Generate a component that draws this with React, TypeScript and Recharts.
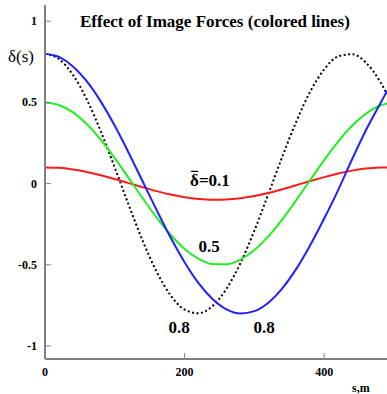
import React from "react";
import { LineChart, Line, XAxis, YAxis, ReferenceDot } from "recharts";

// distance along the line, m
const S = [0, 20, 40, 60, 80, 100, 120, 140, 160, 180, 200, 220, 240, 260, 280, 300, 320, 340, 360, 380, 400, 420, 440, 460, 480, 490];

// delta = 0.1 (red)
const RED = [0.1, 0.097, 0.087, 0.072, 0.052, 0.028, 0.003, -0.022, -0.046, -0.067, -0.084, -0.095, -0.1, -0.098, -0.09, -0.076, -0.058, -0.035, -0.01, 0.016, 0.04, 0.062, 0.08, 0.093, 0.099, 0.1];
// delta = 0.5 (green)
const GREEN = [0.5, 0.484, 0.439, 0.366, 0.27, 0.157, 0.034, -0.09, -0.209, -0.315, -0.402, -0.463, -0.495, -0.497, -0.468, -0.409, -0.325, -0.22, -0.102, 0.022, 0.145, 0.259, 0.356, 0.431, 0.481, 0.494];
// delta = 0.8 (blue)
const BLUE = [0.8, 0.78, 0.722, 0.629, 0.505, 0.356, 0.189, 0.013, -0.163, -0.332, -0.484, -0.613, -0.711, -0.775, -0.8, -0.785, -0.733, -0.645, -0.525, -0.379, -0.215, -0.04, 0.15, 0.33, 0.49, 0.57];
// delta = 0.8 without image forces (black dotted)
const BLACK = [0.8, 0.767, 0.67, 0.517, 0.321, 0.098, -0.132, -0.352, -0.543, -0.688, -0.776, -0.798, -0.754, -0.648, -0.49, -0.289, -0.064, 0.166, 0.382, 0.567, 0.703, 0.784, 0.797, 0.744, 0.629, 0.551];

const X_TICKS = [0, 200, 400];
const Y_TICKS = [-1, -0.5, 0, 0.5, 1];

const data = S.map((s, i) => ({ s, red: RED[i], green: GREEN[i], blue: BLUE[i], black: BLACK[i] }));

const PLOT_LEFT = 45;
const PLOT_BOTTOM = 359;
const AXIS_COLOR = "#808080";
const FONT = "'Liberation Serif', 'Times New Roman', serif";

const YTick = (props: any) => {
  const { y, payload } = props;
  return (
    <g>
      <line x1={PLOT_LEFT} x2={PLOT_LEFT + 6} y1={y} y2={y} stroke={AXIS_COLOR} strokeWidth={1} />
      <text x={PLOT_LEFT - 8} y={y} dy={4} textAnchor="end" fontFamily={FONT} fontWeight="bold" fontSize={12} fill="#000">
        {payload.value}
      </text>
    </g>
  );
};

const XTick = (props: any) => {
  const { x, payload } = props;
  return (
    <g>
      <line x1={x} x2={x} y1={PLOT_BOTTOM} y2={PLOT_BOTTOM - 6} stroke={AXIS_COLOR} strokeWidth={1} />
      <text x={x} y={PLOT_BOTTOM + 17} textAnchor="middle" fontFamily={FONT} fontWeight="bold" fontSize={12} fill="#000">
        {payload.value}
      </text>
    </g>
  );
};

const labelStyle = { fontFamily: FONT, fontWeight: "bold" as const, fontSize: 17, fill: "#000" };

// "δ=0.1" with a bar over the delta
const DeltaLabel = (props: any) => {
  const { viewBox } = props;
  const cx = viewBox.x + (viewBox.width || 0) / 2;
  const cy = viewBox.y + (viewBox.height || 0) / 2;
  const left = cx - 21;
  return (
    <g>
      <line x1={left + 1} x2={left + 8} y1={cy - 9} y2={cy - 9} stroke="#000" strokeWidth={1.2} />
      <text x={left} y={cy + 6} {...labelStyle}>
        δ=0.1
      </text>
    </g>
  );
};

export default function App() {
  return (
    <div style={{ position: "absolute", left: 0, top: 0, width: 387, height: 394, background: "#fff" }}>
      <LineChart width={387} height={394} data={data} margin={{ top: 5, right: 0, bottom: 0, left: 0 }}>
        <XAxis
          dataKey="s"
          type="number"
          domain={[0, 490]}
          ticks={X_TICKS}
          height={35}
          tickLine={false}
          tick={<XTick />}
          axisLine={{ stroke: AXIS_COLOR, strokeWidth: 2 }}
          allowDataOverflow
        />
        <YAxis
          type="number"
          domain={[-1.08, 1.1]}
          ticks={Y_TICKS}
          width={45}
          tickLine={false}
          tick={<YTick />}
          axisLine={{ stroke: AXIS_COLOR, strokeWidth: 2 }}
          allowDataOverflow
        />
        <Line type="monotone" dataKey="black" stroke="#000" strokeWidth={2} strokeDasharray="2 2.5" dot={false} isAnimationActive={false} />
        <Line type="monotone" dataKey="red" stroke="#ff1a1a" strokeWidth={2} dot={false} isAnimationActive={false} />
        <Line type="monotone" dataKey="green" stroke="#22ee22" strokeWidth={2} dot={false} isAnimationActive={false} />
        <Line type="monotone" dataKey="blue" stroke="#2020ff" strokeWidth={2} dot={false} isAnimationActive={false} />
        <ReferenceDot x={238} y={0.02} r={0} stroke="none" label={<DeltaLabel />} />
        <ReferenceDot x={235} y={-0.385} r={0} stroke="none" label={{ value: "0.5", position: "center", ...labelStyle }} />
        <ReferenceDot x={192} y={-0.88} r={0} stroke="none" label={{ value: "0.8", position: "center", ...labelStyle }} />
        <ReferenceDot x={314} y={-0.88} r={0} stroke="none" label={{ value: "0.8", position: "center", ...labelStyle }} />
      </LineChart>
      <div style={{ position: "absolute", left: 80, top: 12, fontFamily: FONT, fontWeight: "bold", fontSize: 17, whiteSpace: "nowrap" }}>
        Effect of Image Forces (colored lines)
      </div>
      <div style={{ position: "absolute", left: 8, top: 47, fontFamily: FONT, fontSize: 17, whiteSpace: "nowrap" }}>δ(s)</div>
      <div style={{ position: "absolute", left: 352, top: 381, fontFamily: FONT, fontWeight: "bold", fontSize: 12, whiteSpace: "nowrap" }}>s,m</div>
    </div>
  );
}
